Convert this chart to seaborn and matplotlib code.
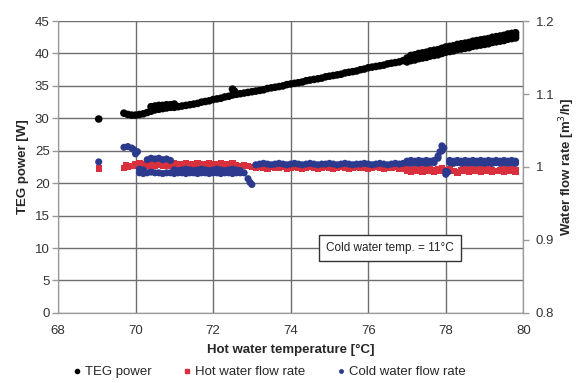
import pandas as pd
import matplotlib.pyplot as plt
import seaborn as sns

# hot water temperature [degC], main sweep
temps = [69.7, 69.8, 69.9,
         70.0, 70.1, 70.2, 70.3, 70.4, 70.5, 70.6, 70.7, 70.8, 70.9,
         71.0, 71.1, 71.2, 71.3, 71.4, 71.5, 71.6, 71.7, 71.8, 71.9,
         72.0, 72.1, 72.2, 72.3, 72.4, 72.5, 72.6, 72.7, 72.8, 72.9,
         73.0, 73.1, 73.2, 73.3, 73.4, 73.5, 73.6, 73.7, 73.8, 73.9,
         74.0, 74.1, 74.2, 74.3, 74.4, 74.5, 74.6, 74.7, 74.8, 74.9,
         75.0, 75.1, 75.2, 75.3, 75.4, 75.5, 75.6, 75.7, 75.8, 75.9,
         76.0, 76.1, 76.2, 76.3, 76.4, 76.5, 76.6, 76.7, 76.8, 76.9,
         77.0, 77.1, 77.2, 77.3, 77.4, 77.5, 77.6, 77.7, 77.8, 77.9,
         78.0, 78.1, 78.2, 78.3, 78.4, 78.5, 78.6, 78.7, 78.8, 78.9,
         79.0, 79.1, 79.2, 79.3, 79.4, 79.5, 79.6, 79.7, 79.8]

# TEG power [W]
power = [30.8, 30.6, 30.5,
         30.5, 30.6, 30.7, 30.9, 31.1, 31.3, 31.4, 31.5, 31.6, 31.7,
         31.7, 31.8, 31.9, 32.0, 32.1, 32.2, 32.3, 32.5, 32.6, 32.7,
         32.9, 33.0, 33.1, 33.3, 33.4, 33.6, 33.7, 33.8, 33.9, 34.0,
         34.1, 34.2, 34.3, 34.4, 34.6, 34.7, 34.8, 34.9, 35.0, 35.2,
         35.3, 35.4, 35.5, 35.6, 35.8, 35.9, 36.0, 36.1, 36.2, 36.4,
         36.5, 36.6, 36.7, 36.8, 37.0, 37.1, 37.2, 37.3, 37.5, 37.6,
         37.8, 37.9, 38.0, 38.1, 38.2, 38.4, 38.5, 38.6, 38.7, 38.9,
         39.0, 39.3, 39.4, 39.6, 39.7, 39.8, 40.0, 40.1, 40.2, 40.4,
         40.6, 40.7, 40.8, 41.0, 41.1, 41.2, 41.3, 41.5, 41.6, 41.7,
         41.8, 41.9, 42.1, 42.2, 42.3, 42.4, 42.6, 42.7, 42.8]

# upper and lower edge of the wider power band, 77.0 .. 79.8 degC
power_top_b = [39.3, 39.7, 39.8, 40.0, 40.1, 40.2, 40.4, 40.5, 40.6, 40.8,
               41.0, 41.1, 41.2, 41.4, 41.5, 41.6, 41.7, 41.9, 42.0, 42.1,
               42.2, 42.3, 42.5, 42.6, 42.7, 42.8, 43.0, 43.1, 43.2]
power_low_b = [38.7, 38.9, 39.0, 39.2, 39.3, 39.4, 39.6, 39.7, 39.8, 40.0,
               40.2, 40.3, 40.4, 40.6, 40.7, 40.8, 40.9, 41.1, 41.2, 41.3,
               41.4, 41.5, 41.7, 41.8, 41.9, 42.0, 42.2, 42.3, 42.4]

# hot water flow rate [m3/h]
hot_flow = [0.999, 1.000, 1.001,
            1.002, 1.001, 1.003, 1.002, 1.000, 1.001, 1.003, 1.002, 1.001, 1.002,
            1.003, 1.001, 1.002, 1.002, 1.000, 1.002, 1.003, 1.002, 1.001, 1.003,
            1.002, 1.001, 1.003, 1.002, 1.002, 1.003, 1.002, 1.001, 1.002, 1.001,
            1.000, 0.999, 1.000, 0.999, 0.998, 1.000, 0.999, 0.999, 1.000, 0.998,
            0.999, 1.000, 0.999, 0.998, 0.999, 1.000, 0.999, 0.998, 0.999, 1.000,
            0.999, 0.998, 0.999, 1.000, 0.999, 0.998, 0.999, 1.000, 0.999, 0.999,
            0.998, 0.999, 1.000, 0.999, 0.998, 0.999, 0.999, 1.000, 0.998, 0.997,
            0.997, 0.996, 0.997, 0.996, 0.997, 0.996, 0.997, 0.996, 0.997, 0.998,
            0.996, 0.997, 0.995, 0.993, 0.996, 0.997, 0.996, 0.997, 0.996, 0.997,
            0.996, 0.997, 0.996, 0.995, 0.996, 0.997, 0.996, 0.997, 0.996]
# upper edge 70.0 .. 72.5 degC, lower edge 77.0 .. 79.8 degC
hot_top_a = [1.004, 1.005, 1.004, 1.004, 1.005, 1.004, 1.004, 1.005, 1.004, 1.004,
             1.005, 1.004, 1.004, 1.005, 1.004, 1.004, 1.005, 1.004, 1.004, 1.005,
             1.004, 1.004, 1.005, 1.004, 1.004, 1.005]
hot_low_b = [0.994, 0.993, 0.994, 0.994, 0.993, 0.994, 0.994, 0.993, 0.994, 0.994,
             0.993, 0.994, 0.994, 0.992, 0.994, 0.994, 0.993, 0.994, 0.994, 0.993,
             0.994, 0.994, 0.993, 0.994, 0.994, 0.993, 0.994, 0.994, 0.993]

# cold water flow rate [m3/h]
cold_flow = [1.027, 1.028, 1.026,
             1.018, 0.997, 0.996, 1.010, 1.012, 1.011, 1.012, 1.010, 1.011, 1.009,
             0.996, 0.995, 0.996, 0.997, 0.996, 0.995, 0.996, 0.997, 0.996, 0.995,
             0.996, 0.997, 0.996, 0.995, 0.996, 0.997, 0.996, 0.995, 0.992, 0.984,
             0.976, 1.003, 1.004, 1.005, 1.004, 1.003, 1.004, 1.005, 1.004, 1.003,
             1.004, 1.005, 1.004, 1.003, 1.004, 1.005, 1.004, 1.003, 1.004, 1.004,
             1.005, 1.004, 1.003, 1.004, 1.005, 1.004, 1.003, 1.004, 1.004, 1.005,
             1.004, 1.003, 1.004, 1.005, 1.004, 1.003, 1.004, 1.005, 1.004, 1.005,
             1.006, 1.005, 1.006, 1.005, 1.006, 1.005, 1.006, 1.006, 1.015, 1.029,
             0.990, 1.006, 1.005, 1.006, 1.005, 1.006, 1.005, 1.006, 1.005, 1.006,
             1.005, 1.006, 1.005, 1.006, 1.005, 1.006, 1.005, 1.006, 1.005]
# lower edge 70.1 .. 72.7 degC, upper edge 77.0 .. 79.8 degC
cold_low_a = [0.992, 0.991, 0.992, 0.993, 0.992, 0.992, 0.991, 0.992, 0.992, 0.991,
              0.992, 0.992, 0.991, 0.992, 0.992, 0.991, 0.992, 0.992, 0.991, 0.992,
              0.992, 0.991, 0.992, 0.992, 0.991, 0.992, 0.992]
cold_top_b = [1.008, 1.009, 1.008, 1.009, 1.008, 1.009, 1.008, 1.009, 1.012, 1.022,
              0.994, 1.009, 1.008, 1.009, 1.008, 1.009, 1.008, 1.009, 1.008, 1.009,
              1.008, 1.009, 1.008, 1.009, 1.008, 1.009, 1.008, 1.009, 1.008]

# isolated first reading and spikes
power_pts_t = [69.05, 70.4, 70.5, 70.6, 70.7, 70.8, 70.9, 71.0, 72.5, 72.55]
power_pts_w = [29.9, 31.8, 31.9, 32.0, 32.0, 32.1, 32.1, 32.2, 34.5, 34.2]
hot_pts_t = [69.05, 69.75]
hot_pts_f = [0.998, 1.002]
cold_pts_t = [69.05, 69.95, 70.05, 72.95, 77.85, 77.95, 78.05]
cold_pts_f = [1.007, 1.024, 1.021, 0.979, 1.021, 1.026, 0.993]

pw = pd.DataFrame({'t': temps + temps[73:] + temps[73:] + power_pts_t,
                   'v': power + power_top_b + power_low_b + power_pts_w})
hw = pd.DataFrame({'t': temps + temps[3:29] + temps[73:] + hot_pts_t,
                   'v': hot_flow + hot_top_a + hot_low_b + hot_pts_f})
cw = pd.DataFrame({'t': temps + temps[4:31] + temps[73:] + cold_pts_t,
                   'v': cold_flow + cold_low_a + cold_top_b + cold_pts_f})

sns.set_style('white')
plt.rcParams['font.family'] = ['Liberation Sans', 'DejaVu Sans']

fig, ax = plt.subplots(figsize=(5.77, 3.83), dpi=100)
fig.subplots_adjust(left=0.1005, right=0.907, top=0.945, bottom=0.183)
ax2 = ax.twinx()

black = '#000000'
red = '#d8303c'
blue = '#2b3a8c'

sns.scatterplot(data=pw, x='t', y='v', ax=ax, color=black, marker='o', s=30,
                edgecolor='none', linewidth=0, zorder=3)
sns.scatterplot(data=cw, x='t', y='v', ax=ax2, color=blue, marker='o', s=26,
                edgecolor='none', linewidth=0, zorder=3)
sns.scatterplot(data=hw, x='t', y='v', ax=ax2, color=red, marker='s', s=20,
                edgecolor='none', linewidth=0, zorder=2)

ax.set_xlim(68, 80)
ax.set_ylim(0, 45)
ax2.set_ylim(0.8, 1.2)
ax.set_xticks(range(68, 81, 2))
ax.set_yticks(range(0, 46, 5))
ax2.set_yticks([0.8, 0.9, 1.0, 1.1, 1.2])
ax2.set_yticklabels(['0.8', '0.9', '1', '1.1', '1.2'])

ax.grid(True, color='#6e6e6e', linewidth=1.0)
ax.set_axisbelow(True)
ax2.grid(False)

for a in (ax, ax2):
    for side in a.spines:
        a.spines[side].set_color('#9a9a9a')
    a.spines['top'].set_visible(False)
    a.tick_params(colors='#9a9a9a', labelcolor='#333333', labelsize=9.5,
                  length=4, width=1, direction='out')
ax.tick_params(axis='x', pad=5)
ax.tick_params(axis='y', pad=2)
ax2.tick_params(axis='y', pad=5)

ax.set_xlabel('Hot water temperature [°C]', fontsize=9.5, fontweight='bold', labelpad=5)
ax.set_ylabel('TEG power [W]', fontsize=9.5, fontweight='bold', labelpad=4)
ax2.set_ylabel('Water flow rate [m$^3$/h]', fontsize=9.5, fontweight='bold', labelpad=2)

ax.text(76.55, 10.0, 'Cold water temp. = 11°C', fontsize=8.5, color='#222222',
        ha='center', va='center', zorder=5,
        bbox=dict(boxstyle='square,pad=0.6', facecolor='white', edgecolor='#333333', linewidth=1))

handles = [
    plt.Line2D([], [], marker='o', color=black, linestyle='none', markersize=3),
    plt.Line2D([], [], marker='s', color=red, linestyle='none', markersize=3.5),
    plt.Line2D([], [], marker='o', color=blue, linestyle='none', markersize=2.5),
]
fig.legend(handles, ['TEG power', 'Hot water flow rate', 'Cold water flow rate'],
           loc='center', bbox_to_anchor=(0.465, 0.028), ncol=3, frameon=False,
           fontsize=9.5, handletextpad=0.1, columnspacing=2.2, handlelength=1.0)

fig.savefig('out.png', dpi=100)
